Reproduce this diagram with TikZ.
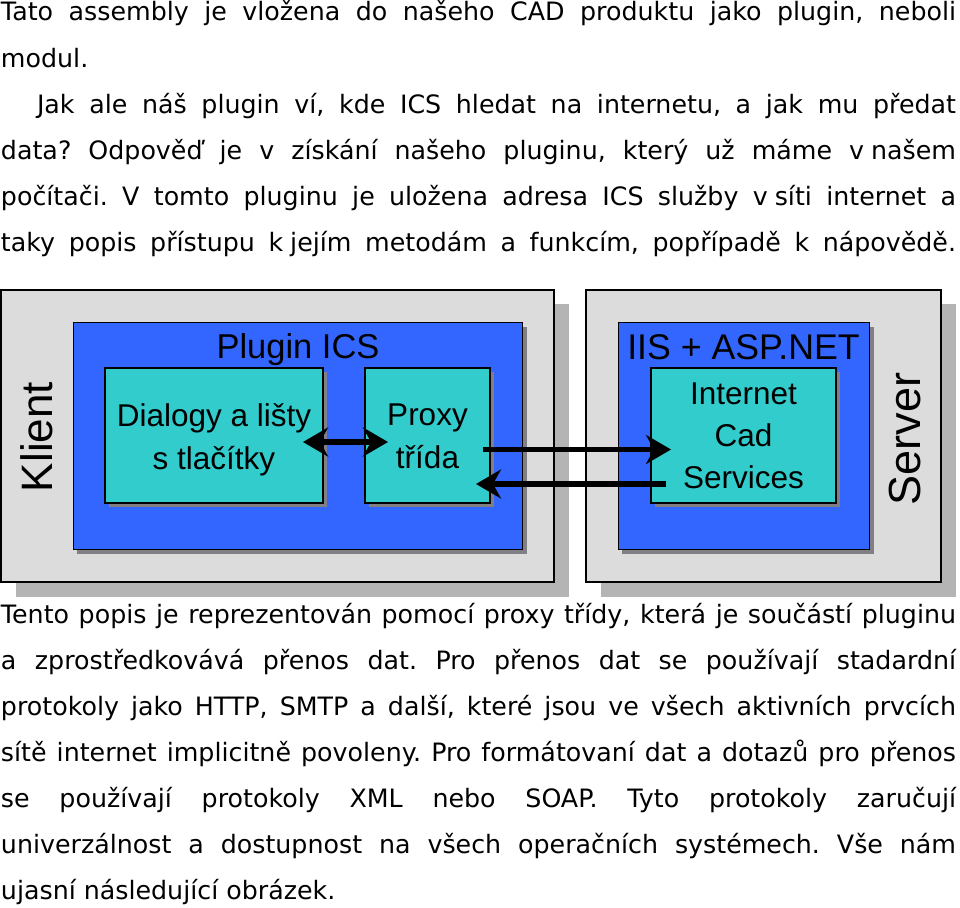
\documentclass[tikz,border=0pt]{standalone}
\usepackage{fontspec}
\setmainfont{DejaVu Sans}
\newfontfamily\labfont{Liberation Sans}
\usetikzlibrary{arrows.meta}
\definecolor{panelgray}{HTML}{DCDCDC}
\definecolor{shadowgray}{HTML}{B4B4B4}
\definecolor{innershadow}{HTML}{7F7F85}
\definecolor{planeblue}{HTML}{3366FF}
\definecolor{tealbox}{HTML}{33CCCC}
\tikzset{
  x=1pt,y=-1pt,
  panel/.style={draw=black,line width=1.1pt,fill=panelgray},
  plane/.style={draw=black,line width=1pt,fill=planeblue,inner sep=0pt,outer sep=0pt},
  tbox/.style={draw=black,line width=1.2pt,fill=tealbox,inner sep=0pt,outer sep=0pt},
  tlab/.style={inner sep=0pt,align=center,font=\labfont\fontsize{31.5}{42}\selectfont},
  lab/.style={inner sep=0pt,font=\labfont\fontsize{#1}{#1}\selectfont},
  conn/.style={line width=5.5pt,black,>={Stealth[length=25pt,width=29pt,inset=8pt]}},
  txt/.style={anchor=base west,inner sep=0pt,outer sep=0pt,font=\fontsize{25.3}{30}\selectfont},
}
\newcommand{\jline}[1]{\hbox to 955pt{#1}}
\frenchspacing
\begin{document}
\begin{tikzpicture}
\useasboundingbox (0,0) rectangle (960,907);
% text above
\node[txt] (t1) at (1,21) {\jline{Tato assembly je vložena do našeho CAD produktu jako plugin, neboli}};
\node[txt] (t2) at (1,67) {modul.};
\node[txt] (t3) at (37,113) {\hbox to 919pt{Jak ale náš plugin ví, kde ICS hledat na internetu, a jak mu předat}};
\node[txt] (t4) at (1,159) {\jline{data? Odpověď je v získání našeho pluginu, který už máme v\kern7pt našem}};
\node[txt] (t5) at (1,205) {\jline{počítači. V tomto pluginu je uložena adresa ICS služby v\kern7pt síti internet a}};
\node[txt] (t6) at (1,251) {\jline{taky popis přístupu k\kern7pt jejím metodám a funkcím, popřípadě k nápovědě.}};
% shadows
\fill[shadowgray] (16,304) rectangle (569,597);
\fill[shadowgray] (601,304) rectangle (956,597);
% outer panels
\draw[panel] (1,290) rectangle (554,582);
\draw[panel] (586,290) rectangle (941,582);
% blue planes
\fill[innershadow] (77,327) rectangle (527,554);
\fill[innershadow] (622,327) rectangle (874,554);
\node[plane,minimum width=449pt,minimum height=227pt] (plugin) at (297.5,435.5) {};
\node[plane,minimum width=251pt,minimum height=227pt] (iis) at (743.5,435.5) {};
% teal boxes
\fill[innershadow] (109,372) rectangle (327,507);
\fill[innershadow] (369,372) rectangle (494,507);
\fill[innershadow] (655,372) rectangle (840,507);
\node[tbox,minimum width=218pt,minimum height=135pt] (dialog) at (214,435.5) {};
\node[tbox,minimum width=125pt,minimum height=135pt] (proxy) at (427.5,435.5) {};
\node[tbox,minimum width=185pt,minimum height=135pt] (ics) at (743.5,435.5) {};
\node[tlab] (dialogtxt) at (214,440) {Dialogy a lišty\\[1pt]s tlačítky};
\node[tlab] (proxytxt) at (427.5,436) {Proxy\\[1pt]třída};
\node[tlab] (icstxt) at (743.5,435.5) {Internet\\Cad\\Services};
% labels
\node[lab=34.5] (pluginlab) at (298,350) {Plugin ICS};
\node[lab=35.7] (iislab) at (743.5,347) {IIS + ASP.NET};
\node[lab=44,rotate=90] (klient) at (37,437) {Klient};
\node[lab=45,rotate=90] (server) at (905,439) {Server};
% connectors
\coordinate (a1) at (303,442);
\coordinate (a2) at (388,442);
\coordinate (b1) at (483,449.5);
\coordinate (b2) at (671,449.5);
\coordinate (c1) at (666,484);
\coordinate (c2) at (476,484);
\draw[conn,<->] (a1) -- (a2);
\draw[conn,->] (b1) -- (b2);
\draw[conn,->] (c1) -- (c2);
% text below
\node[txt] (t7) at (1,623) {\jline{Tento popis je reprezentován pomocí proxy třídy, která je součástí pluginu}};
\node[txt] (t8) at (1,669) {\jline{a zprostředkovává přenos dat. Pro přenos dat se používají stadardní}};
\node[txt] (t9) at (1,715) {\jline{protokoly jako HTTP, SMTP a další, které jsou ve všech aktivních prvcích}};
\node[txt] (t10) at (1,761) {\jline{sítě internet implicitně povoleny. Pro formátovaní dat a dotazů pro přenos}};
\node[txt] (t11) at (1,807) {\jline{se používají protokoly XML nebo SOAP. Tyto protokoly zaručují}};
\node[txt] (t12) at (1,853) {\jline{univerzálnost a dostupnost na všech operačních systémech. Vše nám}};
\node[txt] (t13) at (1,899) {ujasní následující obrázek.};
\end{tikzpicture}
\end{document}
